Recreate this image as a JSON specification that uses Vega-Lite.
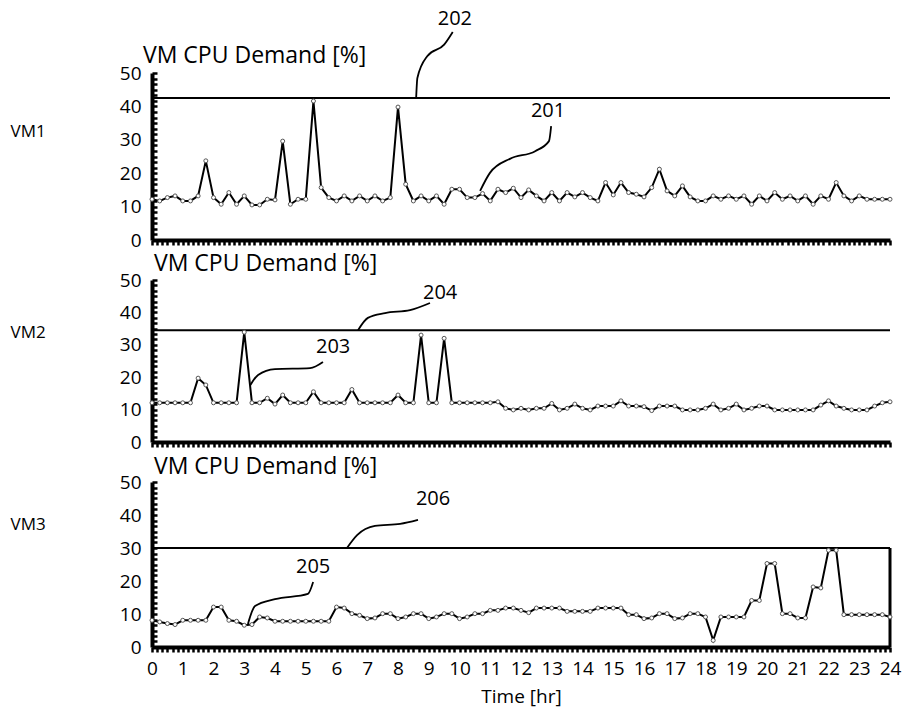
{
"$schema": "https://vega.github.io/schema/vega-lite/v6.json",
"padding": {"left": 10, "top": 8, "right": 5, "bottom": 3},
"background": "white",
"config": {
  "font": "Open Sans",
  "view": {"stroke": null},
  "axis": {"labelFontSize": 19, "labelColor": "black", "titleColor": "black", "domainColor": "black", "tickColor": "black", "grid": false, "labelFont": "Open Sans", "titleFont": "Open Sans", "titleFontSize": 19, "titleFontWeight": "normal", "domainWidth": 4, "tickWidth": 2.5, "labelOverlap": false, "labelFlush": false},
  "text": {"font": "Open Sans", "fontSize": 20, "color": "black"}
},
"datasets": {
  "cpu": [
{"t":0,"vm1":12.2,"vm2":12.1,"vm3":8.1},{"t":0.25,"vm1":11.7,"vm2":12.1,"vm3":7.6},{"t":0.5,"vm1":12.7,"vm2":12.1,"vm3":7.1},{"t":0.75,"vm1":13.2,"vm2":12.1,"vm3":6.8},
{"t":1,"vm1":11.7,"vm2":12.1,"vm3":8.1},{"t":1.25,"vm1":11.7,"vm2":12.1,"vm3":8.1},{"t":1.5,"vm1":13.2,"vm2":19.7,"vm3":8.1},{"t":1.75,"vm1":23.7,"vm2":17.6,"vm3":8.1},
{"t":2,"vm1":12.7,"vm2":12.1,"vm3":12.1},{"t":2.25,"vm1":10.7,"vm2":12.1,"vm3":12.1},{"t":2.5,"vm1":14.2,"vm2":12.1,"vm3":8.1},{"t":2.75,"vm1":10.7,"vm2":12.1,"vm3":7.8},
{"t":3,"vm1":13.2,"vm2":33.9,"vm3":6.6},{"t":3.25,"vm1":10.5,"vm2":12.1,"vm3":6.8},{"t":3.5,"vm1":10.5,"vm2":12.1,"vm3":9.1},{"t":3.75,"vm1":12.2,"vm2":13.5,"vm3":8.8},
{"t":4,"vm1":12.0,"vm2":11.7,"vm3":7.8},{"t":4.25,"vm1":29.6,"vm2":14.5,"vm3":7.8},{"t":4.5,"vm1":10.7,"vm2":12.1,"vm3":7.8},{"t":4.75,"vm1":12.2,"vm2":12.1,"vm3":7.8},
{"t":5,"vm1":12.2,"vm2":12.1,"vm3":7.8},{"t":5.25,"vm1":41.6,"vm2":15.5,"vm3":7.8},{"t":5.5,"vm1":15.7,"vm2":12.1,"vm3":7.8},{"t":5.75,"vm1":12.7,"vm2":12.1,"vm3":7.8},
{"t":6,"vm1":11.7,"vm2":12.1,"vm3":12.1},{"t":6.25,"vm1":13.2,"vm2":12.1,"vm3":11.8},{"t":6.5,"vm1":11.7,"vm2":16.2,"vm3":10.1},{"t":6.75,"vm1":13.2,"vm2":12.1,"vm3":9.6},
{"t":7,"vm1":11.7,"vm2":12.1,"vm3":8.6},{"t":7.25,"vm1":13.2,"vm2":12.1,"vm3":8.8},{"t":7.5,"vm1":11.7,"vm2":12.1,"vm3":10.1},{"t":7.75,"vm1":12.7,"vm2":12.1,"vm3":10.1},
{"t":8,"vm1":39.8,"vm2":14.5,"vm3":8.6},{"t":8.25,"vm1":16.7,"vm2":12.1,"vm3":9.1},{"t":8.5,"vm1":11.7,"vm2":12.1,"vm3":10.1},{"t":8.75,"vm1":13.2,"vm2":33.0,"vm3":10.1},
{"t":9,"vm1":11.7,"vm2":12.1,"vm3":8.6},{"t":9.25,"vm1":13.2,"vm2":12.1,"vm3":9.1},{"t":9.5,"vm1":10.7,"vm2":32.0,"vm3":10.1},{"t":9.75,"vm1":15.2,"vm2":12.1,"vm3":10.1},
{"t":10,"vm1":15.2,"vm2":12.1,"vm3":8.6},{"t":10.25,"vm1":12.7,"vm2":12.1,"vm3":9.1},{"t":10.5,"vm1":12.7,"vm2":12.1,"vm3":10.1},{"t":10.75,"vm1":13.9,"vm2":12.1,"vm3":10.1},
{"t":11,"vm1":11.7,"vm2":12.1,"vm3":11.1},{"t":11.25,"vm1":15.2,"vm2":12.4,"vm3":11.1},{"t":11.5,"vm1":14.2,"vm2":10.4,"vm3":11.8},{"t":11.75,"vm1":15.5,"vm2":9.9,"vm3":11.8},
{"t":12,"vm1":12.7,"vm2":10.4,"vm3":11.1},{"t":12.25,"vm1":15.0,"vm2":9.9,"vm3":10.4},{"t":12.5,"vm1":13.2,"vm2":10.4,"vm3":11.8},{"t":12.75,"vm1":11.7,"vm2":10.4,"vm3":11.8},
{"t":13,"vm1":14.2,"vm2":11.9,"vm3":11.8},{"t":13.25,"vm1":11.7,"vm2":9.9,"vm3":11.8},{"t":13.5,"vm1":14.2,"vm2":10.4,"vm3":10.8},{"t":13.75,"vm1":12.9,"vm2":11.7,"vm3":10.8},
{"t":14,"vm1":14.2,"vm2":10.4,"vm3":10.8},{"t":14.25,"vm1":12.7,"vm2":9.9,"vm3":10.8},{"t":14.5,"vm1":11.7,"vm2":11.1,"vm3":11.8},{"t":14.75,"vm1":17.2,"vm2":11.1,"vm3":11.8},
{"t":15,"vm1":13.5,"vm2":11.1,"vm3":11.8},{"t":15.25,"vm1":17.2,"vm2":12.7,"vm3":11.8},{"t":15.5,"vm1":14.2,"vm2":11.1,"vm3":9.8},{"t":15.75,"vm1":13.7,"vm2":11.1,"vm3":9.8},
{"t":16,"vm1":12.9,"vm2":10.9,"vm3":8.6},{"t":16.25,"vm1":15.7,"vm2":9.7,"vm3":8.8},{"t":16.5,"vm1":21.2,"vm2":11.1,"vm3":10.1},{"t":16.75,"vm1":14.7,"vm2":11.1,"vm3":10.1},
{"t":17,"vm1":13.2,"vm2":11.1,"vm3":8.6},{"t":17.25,"vm1":16.2,"vm2":9.9,"vm3":8.8},{"t":17.5,"vm1":12.9,"vm2":9.9,"vm3":10.1},{"t":17.75,"vm1":11.7,"vm2":9.9,"vm3":10.1},
{"t":18,"vm1":11.7,"vm2":10.4,"vm3":9.1},{"t":18.25,"vm1":13.2,"vm2":11.7,"vm3":2.0},{"t":18.5,"vm1":12.2,"vm2":9.9,"vm3":9.1},{"t":18.75,"vm1":13.2,"vm2":10.4,"vm3":9.1},
{"t":19,"vm1":12.2,"vm2":11.7,"vm3":9.1},{"t":19.25,"vm1":13.2,"vm2":9.9,"vm3":9.1},{"t":19.5,"vm1":10.7,"vm2":10.4,"vm3":14.1},{"t":19.75,"vm1":13.2,"vm2":11.1,"vm3":14.1},
{"t":20,"vm1":11.7,"vm2":11.1,"vm3":25.3},{"t":20.25,"vm1":14.2,"vm2":9.9,"vm3":25.3},{"t":20.5,"vm1":12.2,"vm2":9.9,"vm3":10.1},{"t":20.75,"vm1":13.2,"vm2":9.9,"vm3":10.1},
{"t":21,"vm1":11.7,"vm2":9.9,"vm3":8.8},{"t":21.25,"vm1":13.2,"vm2":9.9,"vm3":8.8},{"t":21.5,"vm1":10.7,"vm2":9.9,"vm3":18.2},{"t":21.75,"vm1":13.2,"vm2":11.4,"vm3":17.9},
{"t":22,"vm1":12.2,"vm2":12.7,"vm3":29.3},{"t":22.25,"vm1":17.2,"vm2":11.1,"vm3":29.3},{"t":22.5,"vm1":13.2,"vm2":10.4,"vm3":9.8},{"t":22.75,"vm1":11.7,"vm2":9.9,"vm3":9.8},
{"t":23,"vm1":13.2,"vm2":9.9,"vm3":9.8},{"t":23.25,"vm1":12.2,"vm2":9.9,"vm3":9.8},{"t":23.5,"vm1":12.2,"vm2":11.1,"vm3":9.8},{"t":23.75,"vm1":12.2,"vm2":12.1,"vm3":9.8},
{"t":24,"vm1":12.2,"vm2":12.4,"vm3":9.1}
  ],
  "labels": [
    {"vm":"vm1","t":9.85,"vm1":66.2,"label":"202"},
    {"vm":"vm1","t":12.88,"vm1":38.6,"label":"201"},
    {"vm":"vm2","t":9.37,"vm2":46.0,"label":"204"},
    {"vm":"vm2","t":5.89,"vm2":29.3,"label":"203"},
    {"vm":"vm3","t":9.14,"vm3":44.8,"label":"206"},
    {"vm":"vm3","t":5.24,"vm3":24.2,"label":"205"}
  ],
  "headers": [
    {"vm":"vm1","t":0,"vm1":50,"s":"VM CPU Demand [%]"},
    {"vm":"vm2","t":0,"vm2":50,"s":"VM CPU Demand [%]"},
    {"vm":"vm3","t":0,"vm3":50,"s":"VM CPU Demand [%]"}
  ],
  "thresholds": [
    {"vm":"vm1","t":0,"t2":24,"vm1":42.5},
    {"vm":"vm2","t":0,"t2":24,"vm2":34.5},
    {"vm":"vm3","t":0,"t2":24,"vm3":30}
  ],
  "leaders": [
    {"id":"202","vm":"vm1","t":8.59,"vm1":42.5},{"id":"202","vm":"vm1","t":8.63,"vm1":48.5},{"id":"202","vm":"vm1","t":8.95,"vm1":55.0},{"id":"202","vm":"vm1","t":9.5,"vm1":58.5},{"id":"202","vm":"vm1","t":9.78,"vm1":62.3},
    {"id":"201","vm":"vm1","t":10.67,"vm1":14.7},{"id":"201","vm":"vm1","t":10.99,"vm1":20.1},{"id":"201","vm":"vm1","t":11.64,"vm1":24.3},{"id":"201","vm":"vm1","t":12.46,"vm1":26.6},{"id":"201","vm":"vm1","t":12.91,"vm1":29.6},{"id":"201","vm":"vm1","t":12.98,"vm1":34.1},
    {"id":"204","vm":"vm2","t":6.70,"vm2":34.5},{"id":"204","vm":"vm2","t":7.02,"vm2":38.3},{"id":"204","vm":"vm2","t":7.58,"vm2":39.8},{"id":"204","vm":"vm2","t":8.39,"vm2":40.7},{"id":"204","vm":"vm2","t":9.04,"vm2":42.9},
    {"id":"203","vm":"vm2","t":3.2,"vm2":17.6},{"id":"203","vm":"vm2","t":3.45,"vm2":20.7},{"id":"203","vm":"vm2","t":4.0,"vm2":22.5},{"id":"203","vm":"vm2","t":5.14,"vm2":22.8},{"id":"203","vm":"vm2","t":5.56,"vm2":24.7},
    {"id":"206","vm":"vm3","t":6.34,"vm3":30.0},{"id":"206","vm":"vm3","t":6.67,"vm3":33.9},{"id":"206","vm":"vm3","t":7.25,"vm3":36.7},{"id":"206","vm":"vm3","t":8.07,"vm3":37.3},{"id":"206","vm":"vm3","t":8.65,"vm3":38.5},
    {"id":"205","vm":"vm3","t":3.12,"vm3":7.0},{"id":"205","vm":"vm3","t":3.35,"vm3":12.4},{"id":"205","vm":"vm3","t":4.0,"vm3":14.5},{"id":"205","vm":"vm3","t":5.07,"vm3":16.1},{"id":"205","vm":"vm3","t":5.24,"vm3":19.7}
  ]
},
"spacing": 40,
"bounds": "flush",
"vconcat": [
{
  "width": 738, "height": 167,
  "encoding": {
    "x": {"field": "t", "type": "quantitative", "scale": {"domain": [0, 24]},
      "axis": {"title": null, "labels": false, "tickSize": 5,
        "values": [0,0.1667,0.3333,0.5,0.6667,0.8333,1,1.1667,1.3333,1.5,1.6667,1.8333,2,2.1667,2.3333,2.5,2.6667,2.8333,3,3.1667,3.3333,3.5,3.6667,3.8333,4,4.1667,4.3333,4.5,4.6667,4.8333,5,5.1667,5.3333,5.5,5.6667,5.8333,6,6.1667,6.3333,6.5,6.6667,6.8333,7,7.1667,7.3333,7.5,7.6667,7.8333,8,8.1667,8.3333,8.5,8.6667,8.8333,9,9.1667,9.3333,9.5,9.6667,9.8333,10,10.1667,10.3333,10.5,10.6667,10.8333,11,11.1667,11.3333,11.5,11.6667,11.8333,12,12.1667,12.3333,12.5,12.6667,12.8333,13,13.1667,13.3333,13.5,13.6667,13.8333,14,14.1667,14.3333,14.5,14.6667,14.8333,15,15.1667,15.3333,15.5,15.6667,15.8333,16,16.1667,16.3333,16.5,16.6667,16.8333,17,17.1667,17.3333,17.5,17.6667,17.8333,18,18.1667,18.3333,18.5,18.6667,18.8333,19,19.1667,19.3333,19.5,19.6667,19.8333,20,20.1667,20.3333,20.5,20.6667,20.8333,21,21.1667,21.3333,21.5,21.6667,21.8333,22,22.1667,22.3333,22.5,22.6667,22.8333,23,23.1667,23.3333,23.5,23.6667,23.8333,24]}},
    "y": {"field": "vm1", "type": "quantitative", "scale": {"domain": [0, 50]},
      "axis": {"title": "VM1", "titleFontSize": 17, "titleAngle": 0, "titleX": -142, "titleY": 58, "titleAlign": "left", "titleBaseline": "middle",
        "tickSize": -5, "labelPadding": 16,
        "labelExpr": "datum.value % 10 == 0 ? format(datum.value, 'd') : ''",
        "values": [0,1.6667,3.3333,5,6.6667,8.3333,10,11.6667,13.3333,15,16.6667,18.3333,20,21.6667,23.3333,25,26.6667,28.3333,30,31.6667,33.3333,35,36.6667,38.3333,40,41.6667,43.3333,45,46.6667,48.3333,50]}}
  },
  "layer": [
    {"data": {"name": "cpu"}, "mark": {"type": "line", "color": "black", "strokeWidth": 2}},
    {"data": {"name": "thresholds"}, "transform": [{"filter": "datum.vm == 'vm1'"}],
     "mark": {"type": "rule", "color": "black", "strokeWidth": 2},
     "encoding": {"x2": {"field": "t2"}}},
    {"data": {"name": "cpu"}, "mark": {"type": "point", "shape": "circle", "filled": true, "fill": "white", "stroke": "#555", "strokeWidth": 1, "size": 16, "opacity": 1}},
    {"data": {"name": "headers"}, "transform": [{"filter": "datum.vm == 'vm1'"}],
     "mark": {"type": "text", "align": "left", "baseline": "alphabetic", "dx": -9, "dy": -10, "fontSize": 23},
     "encoding": {"text": {"field": "s"}}},
    {"data": {"name": "labels"}, "transform": [{"filter": "datum.vm == 'vm1'"}],
     "mark": {"type": "text", "align": "center", "baseline": "middle"},
     "encoding": {"text": {"field": "label"}}},
    {"data": {"name": "leaders"}, "transform": [{"filter": "datum.vm == 'vm1'"}],
     "mark": {"type": "line", "color": "black", "strokeWidth": 1.8, "interpolate": "monotone"},
     "encoding": {"detail": {"field": "id"}}}
  ]
},
{
  "width": 738, "height": 162,
  "encoding": {
    "x": {"field": "t", "type": "quantitative", "scale": {"domain": [0, 24]},
      "axis": {"title": null, "labels": false, "tickSize": 5,
        "values": [0,0.1667,0.3333,0.5,0.6667,0.8333,1,1.1667,1.3333,1.5,1.6667,1.8333,2,2.1667,2.3333,2.5,2.6667,2.8333,3,3.1667,3.3333,3.5,3.6667,3.8333,4,4.1667,4.3333,4.5,4.6667,4.8333,5,5.1667,5.3333,5.5,5.6667,5.8333,6,6.1667,6.3333,6.5,6.6667,6.8333,7,7.1667,7.3333,7.5,7.6667,7.8333,8,8.1667,8.3333,8.5,8.6667,8.8333,9,9.1667,9.3333,9.5,9.6667,9.8333,10,10.1667,10.3333,10.5,10.6667,10.8333,11,11.1667,11.3333,11.5,11.6667,11.8333,12,12.1667,12.3333,12.5,12.6667,12.8333,13,13.1667,13.3333,13.5,13.6667,13.8333,14,14.1667,14.3333,14.5,14.6667,14.8333,15,15.1667,15.3333,15.5,15.6667,15.8333,16,16.1667,16.3333,16.5,16.6667,16.8333,17,17.1667,17.3333,17.5,17.6667,17.8333,18,18.1667,18.3333,18.5,18.6667,18.8333,19,19.1667,19.3333,19.5,19.6667,19.8333,20,20.1667,20.3333,20.5,20.6667,20.8333,21,21.1667,21.3333,21.5,21.6667,21.8333,22,22.1667,22.3333,22.5,22.6667,22.8333,23,23.1667,23.3333,23.5,23.6667,23.8333,24]}},
    "y": {"field": "vm2", "type": "quantitative", "scale": {"domain": [0, 50]},
      "axis": {"title": "VM2", "titleFontSize": 17, "titleAngle": 0, "titleX": -142, "titleY": 52, "titleAlign": "left", "titleBaseline": "middle",
        "tickSize": -5, "labelPadding": 16,
        "labelExpr": "datum.value % 10 == 0 ? format(datum.value, 'd') : ''",
        "values": [0,1.6667,3.3333,5,6.6667,8.3333,10,11.6667,13.3333,15,16.6667,18.3333,20,21.6667,23.3333,25,26.6667,28.3333,30,31.6667,33.3333,35,36.6667,38.3333,40,41.6667,43.3333,45,46.6667,48.3333,50]}}
  },
  "layer": [
    {"data": {"name": "cpu"}, "mark": {"type": "line", "color": "black", "strokeWidth": 2}},
    {"data": {"name": "thresholds"}, "transform": [{"filter": "datum.vm == 'vm2'"}],
     "mark": {"type": "rule", "color": "black", "strokeWidth": 2},
     "encoding": {"x2": {"field": "t2"}}},
    {"data": {"name": "cpu"}, "mark": {"type": "point", "shape": "circle", "filled": true, "fill": "white", "stroke": "#555", "strokeWidth": 1, "size": 16, "opacity": 1}},
    {"data": {"name": "headers"}, "transform": [{"filter": "datum.vm == 'vm2'"}],
     "mark": {"type": "text", "align": "left", "baseline": "alphabetic", "dx": 2, "dy": -9, "fontSize": 23},
     "encoding": {"text": {"field": "s"}}},
    {"data": {"name": "labels"}, "transform": [{"filter": "datum.vm == 'vm2'"}],
     "mark": {"type": "text", "align": "center", "baseline": "middle"},
     "encoding": {"text": {"field": "label"}}},
    {"data": {"name": "leaders"}, "transform": [{"filter": "datum.vm == 'vm2'"}],
     "mark": {"type": "line", "color": "black", "strokeWidth": 1.8, "interpolate": "monotone"},
     "encoding": {"detail": {"field": "id"}}}
  ]
},
{
  "width": 738, "height": 165,
  "encoding": {
    "x": {"field": "t", "type": "quantitative", "scale": {"domain": [0, 24]},
      "axis": {"title": "Time [hr]", "titlePadding": 9, "tickSize": 5, "labelPadding": 7,
        "labelExpr": "datum.value % 1 == 0 ? format(datum.value, 'd') : ''",
        "values": [0,0.1667,0.3333,0.5,0.6667,0.8333,1,1.1667,1.3333,1.5,1.6667,1.8333,2,2.1667,2.3333,2.5,2.6667,2.8333,3,3.1667,3.3333,3.5,3.6667,3.8333,4,4.1667,4.3333,4.5,4.6667,4.8333,5,5.1667,5.3333,5.5,5.6667,5.8333,6,6.1667,6.3333,6.5,6.6667,6.8333,7,7.1667,7.3333,7.5,7.6667,7.8333,8,8.1667,8.3333,8.5,8.6667,8.8333,9,9.1667,9.3333,9.5,9.6667,9.8333,10,10.1667,10.3333,10.5,10.6667,10.8333,11,11.1667,11.3333,11.5,11.6667,11.8333,12,12.1667,12.3333,12.5,12.6667,12.8333,13,13.1667,13.3333,13.5,13.6667,13.8333,14,14.1667,14.3333,14.5,14.6667,14.8333,15,15.1667,15.3333,15.5,15.6667,15.8333,16,16.1667,16.3333,16.5,16.6667,16.8333,17,17.1667,17.3333,17.5,17.6667,17.8333,18,18.1667,18.3333,18.5,18.6667,18.8333,19,19.1667,19.3333,19.5,19.6667,19.8333,20,20.1667,20.3333,20.5,20.6667,20.8333,21,21.1667,21.3333,21.5,21.6667,21.8333,22,22.1667,22.3333,22.5,22.6667,22.8333,23,23.1667,23.3333,23.5,23.6667,23.8333,24]}},
    "y": {"field": "vm3", "type": "quantitative", "scale": {"domain": [0, 50]},
      "axis": {"title": "VM3", "titleFontSize": 17, "titleAngle": 0, "titleX": -142, "titleY": 42, "titleAlign": "left", "titleBaseline": "middle",
        "tickSize": -5, "labelPadding": 16,
        "labelExpr": "datum.value % 10 == 0 ? format(datum.value, 'd') : ''",
        "values": [0,1.6667,3.3333,5,6.6667,8.3333,10,11.6667,13.3333,15,16.6667,18.3333,20,21.6667,23.3333,25,26.6667,28.3333,30,31.6667,33.3333,35,36.6667,38.3333,40,41.6667,43.3333,45,46.6667,48.3333,50]}}
  },
  "layer": [
    {"data": {"name": "cpu"}, "mark": {"type": "line", "color": "black", "strokeWidth": 2}},
    {"data": {"name": "thresholds"}, "transform": [{"filter": "datum.vm == 'vm3'"}],
     "mark": {"type": "rule", "color": "black", "strokeWidth": 2},
     "encoding": {"x2": {"field": "t2"}}},
    {"data": {"values": [{"t": 24, "vm3": 0, "top": 30}]},
     "mark": {"type": "rule", "color": "black", "strokeWidth": 3},
     "encoding": {"y2": {"field": "top"}}},
    {"data": {"name": "cpu"}, "mark": {"type": "point", "shape": "circle", "filled": true, "fill": "white", "stroke": "#555", "strokeWidth": 1, "size": 16, "opacity": 1}},
    {"data": {"name": "headers"}, "transform": [{"filter": "datum.vm == 'vm3'"}],
     "mark": {"type": "text", "align": "left", "baseline": "alphabetic", "dx": 2, "dy": -8, "fontSize": 23},
     "encoding": {"text": {"field": "s"}}},
    {"data": {"name": "labels"}, "transform": [{"filter": "datum.vm == 'vm3'"}],
     "mark": {"type": "text", "align": "center", "baseline": "middle"},
     "encoding": {"text": {"field": "label"}}},
    {"data": {"name": "leaders"}, "transform": [{"filter": "datum.vm == 'vm3'"}],
     "mark": {"type": "line", "color": "black", "strokeWidth": 1.8, "interpolate": "monotone"},
     "encoding": {"detail": {"field": "id"}}}
  ]
}
]
}
